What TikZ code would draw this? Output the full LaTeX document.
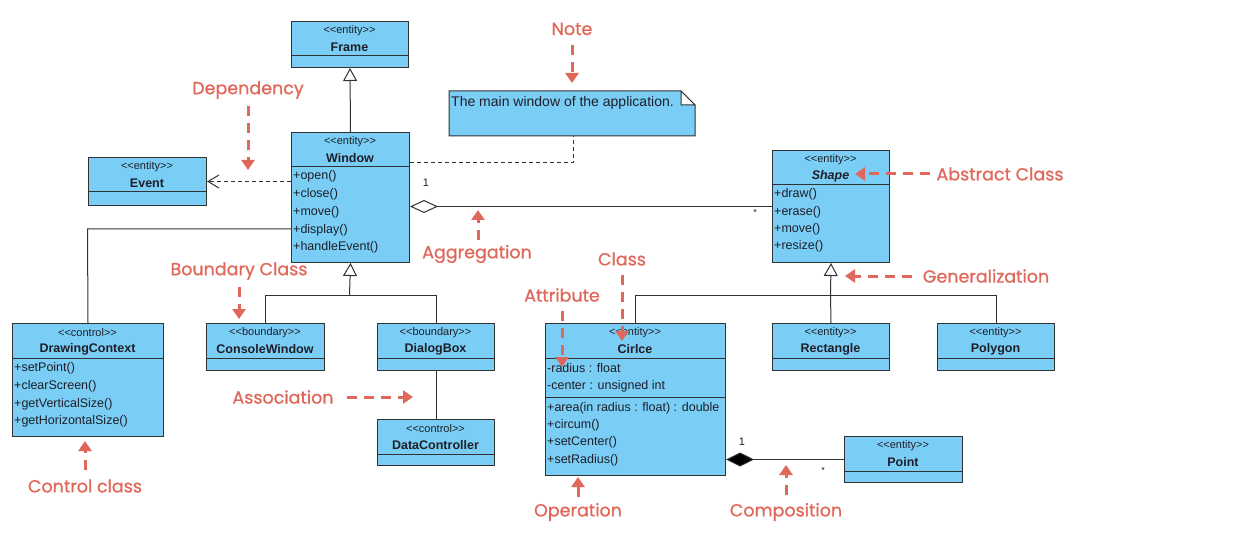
\documentclass[tikz,border=0pt]{standalone}
\usepackage{fontspec}
\setmainfont{Liberation Sans}
\newfontfamily\annfont{Poppins}[FakeBold=0.9]
\usetikzlibrary{arrows.meta,calc}

\definecolor{clsfill}{RGB}{122,206,245}
\definecolor{clsline}{RGB}{50,50,50}
\definecolor{clstext}{RGB}{30,30,40}
\definecolor{annred}{RGB}{224,104,90}

% guillemet-free stereotype brackets
\newcommand{\ltlt}{<\kern0pt<}
\newcommand{\gtgt}{>\kern0pt>}

\tikzset{
  cls/.style={draw=clsline, fill=clsfill, line width=1pt, inner sep=0pt, anchor=north west},
  sepline/.style={draw=clsline, line width=1pt},
  stereo/.style={font=\fontsize{11}{13}\selectfont, text=clstext, inner sep=0pt},
  cname/.style={font=\fontsize{12.5}{14}\selectfont\bfseries, text=clstext, inner sep=0pt},
  member/.style={font=\fontsize{12.5}{14}\selectfont, text=clstext, anchor=west, inner sep=0pt},
  mult/.style={font=\fontsize{11}{13}\selectfont, text=clstext, inner sep=0pt},
  conn/.style={draw=clsline, line width=1pt},
  gen/.style={conn, -{Triangle[length=13pt,width=14pt,fill=white]}},
  dep/.style={conn, dash pattern=on 4pt off 3pt, -{Straight Barb[length=11pt,width=13pt]}},
  agg/.style={conn, {Diamond[length=28pt,width=13pt,fill=white]}-},
  comp/.style={conn, {Diamond[length=28pt,width=14pt,fill=black]}-},
  notelink/.style={conn, dash pattern=on 4pt off 3pt},
  annlabel/.style={font=\annfont\fontsize{17.5}{20}\selectfont, text=annred, inner sep=0pt},
  annarrow/.style={draw=annred, line width=3pt, dash pattern=on 10pt off 7pt,
                   -{Triangle[length=10pt,width=13pt]}},
}

% \umlclass{name}{x}{y}{width}{height}{stereotype}{class name}
\newcommand{\umlclass}[7]{%
  \node[cls, minimum width=#4pt, minimum height=#5pt] (#1) at (#2,#3) {};
  \node[stereo] at ({#2+#4/2},{#3+9.5}) {\ltlt #6\gtgt};
  \node[cname] at ({#2+#4/2},{#3+26}) {#7};
  \draw[sepline] (#2,{#3+35}) -- ({#2+#4},{#3+35});
}

\begin{document}
\begin{tikzpicture}[x=1pt,y=-1pt]
\useasboundingbox (0,0) rectangle (1257,537);

% ---------- classes ----------
\umlclass{frame}{291}{21}{117}{46}{entity}{Frame}
\umlclass{window}{291}{132}{118}{130}{entity}{Window}
\umlclass{event}{88}{157}{118}{48}{entity}{Event}
\umlclass{shape}{772}{150}{117}{112}{entity}{\itshape Shape}
\umlclass{drawctx}{12}{323}{151}{113}{control}{DrawingContext}
\umlclass{console}{206}{323}{118}{47}{boundary}{ConsoleWindow}
\umlclass{dialog}{377}{323}{117}{47}{boundary}{DialogBox}
\umlclass{datactl}{377}{419}{117}{46}{control}{DataController}
\umlclass{circle}{545}{323}{180}{152}{entity}{Cirlce}
\umlclass{rect}{772}{323}{117}{47}{entity}{Rectangle}
\umlclass{poly}{937}{323}{117}{47}{entity}{Polygon}
\umlclass{point}{844}{436}{118}{46}{entity}{Point}

% ---------- members ----------
\node[member] at (293,176.5) {+open()};
\node[member] at (293,194.5) {+close()};
\node[member] at (293,212) {+move()};
\node[member] at (293,230) {+display()};
\node[member] at (293,247.5) {+handleEvent()};

\node[member] at (774,194) {+draw()};
\node[member] at (774,212) {+erase()};
\node[member] at (774,229.5) {+move()};
\node[member] at (774,246.5) {+resize()};

\node[member] at (14,368) {+setPoint()};
\node[member] at (14,386) {+clearScreen()};
\node[member] at (14,404) {+getVerticalSize()};
\node[member] at (14,421.5) {+getHorizontalSize()};

\node[member] at (547,368.5) {-radius : float};
\node[member] at (547,386) {-center : unsigned int};
\draw[sepline] (545,397) -- (725,397);
\node[member] at (547,408) {+area(in radius : float) : double};
\node[member] at (547,425.5) {+circum()};
\node[member] at (547,442) {+setCenter()};
\node[member] at (547,460) {+setRadius()};

% ---------- note ----------
\draw[conn, fill=clsfill] (449,91) -- (681,91) -- (695,105) -- (695,136) -- (449,136) -- cycle;
\draw[conn, fill=white] (681,91) -- (681,105) -- (695,105) -- cycle;
\path (449,91) -- (695,136) coordinate[pos=0.5] (notec);
\node[draw=none, minimum width=246pt, minimum height=45pt, inner sep=0pt] (note) at (notec) {};
\node[font=\fontsize{14}{16}\selectfont, text=clstext, anchor=west, inner sep=0pt] at (451,102.5) {The main window of the application.};

% ---------- connectors ----------
\draw[gen] (window.north) -- (frame.south);
\draw[dep] (event.east -| window.west) -- (event.east);

\coordinate (notebend) at (573,163);
\draw[notelink] (notebend -| window.east) -- (notebend) -- (note.south -| notebend);

\draw[agg] (shape.west -| window.east) -- (shape.west);
\node[mult] at (426,183) {1};
\node[mult, font=\fontsize{9}{10}\selectfont] at (755,212) {*};

\coordinate (dcbend) at (87.5,229);
\draw[conn] (dcbend -| window.west) -- (dcbend) -- (drawctx.north);

\coordinate (wjoin) at (349.5,295);
\draw[conn] (console.north) |- (wjoin);
\draw[conn] (dialog.north) |- (wjoin);
\draw[gen] (wjoin) -- (window.south);

\draw[conn] (dialog.south) -- (datactl.north);

\coordinate (sjoin) at (830.5,295);
\draw[conn] (circle.north) |- (sjoin);
\draw[conn] (poly.north) |- (sjoin);
\draw[conn] (rect.north) -- (sjoin);
\draw[gen] (sjoin) -- (shape.south);

\draw[comp] (point.west -| circle.east) -- (point.west);
\node[mult] at (742,442) {1};
\node[mult, font=\fontsize{9}{10}\selectfont] at (823,470) {*};

% ---------- annotations ----------
\node[annlabel] (lnote) at (572,29) {Note};
\coordinate (tnote) at (572,83);
\draw[annarrow] (lnote) ++(0,16) -- (tnote);

\node[annlabel] (ldep) at (248,90) {Dependency};
\coordinate (tdep) at (248,170);
\draw[annarrow] (ldep) ++(0,16) -- (tdep);

\node[annlabel] (labs) at (1000,174) {Abstract Class};
\coordinate (tabs) at (855,174);
\draw[annarrow] (labs) ++(-70,0) -- (tabs);

\node[annlabel] (lagg) at (477,254) {Aggregation};
\coordinate (tagg) at (478,210);
\draw[annarrow] (lagg) ++(1,-14) -- (tagg);

\node[annlabel] (lclass) at (622,259) {Class};
\coordinate (tclass) at (622,341);
\draw[annarrow] (lclass) ++(0,16) -- (tclass);

\node[annlabel] (lattr) at (562,295) {Attribute};
\coordinate (tattr) at (562,367);
\draw[annarrow] (lattr) ++(0,16) -- (tattr);

\node[annlabel] (lbnd) at (239,271) {Boundary Class};
\coordinate (tbnd) at (239,319);
\draw[annarrow] (lbnd) ++(0,16) -- (tbnd);

\node[annlabel] (lgen) at (986,276) {Generalization};
\coordinate (tgen) at (845,276);
\draw[annarrow] (lgen) ++(-74,0) -- (tgen);

\node[annlabel] (lasc) at (283,397) {Association};
\coordinate (tasc) at (413,397);
\draw[annarrow] (lasc) ++(64,0) -- (tasc);

\node[annlabel] (lctl) at (85,486) {Control class};
\coordinate (tctl) at (85,441);
\draw[annarrow] (lctl) ++(0,-16) -- (tctl);

\node[annlabel] (lop) at (578,512) {Operation};
\coordinate (top) at (578,477);
\draw[annarrow] (lop) ++(0,-15) -- (top);

\node[annlabel] (lcomp) at (786,512) {Composition};
\coordinate (tcomp) at (786,465);
\draw[annarrow] (lcomp) ++(0,-17) -- (tcomp);

\end{tikzpicture}
\end{document}
